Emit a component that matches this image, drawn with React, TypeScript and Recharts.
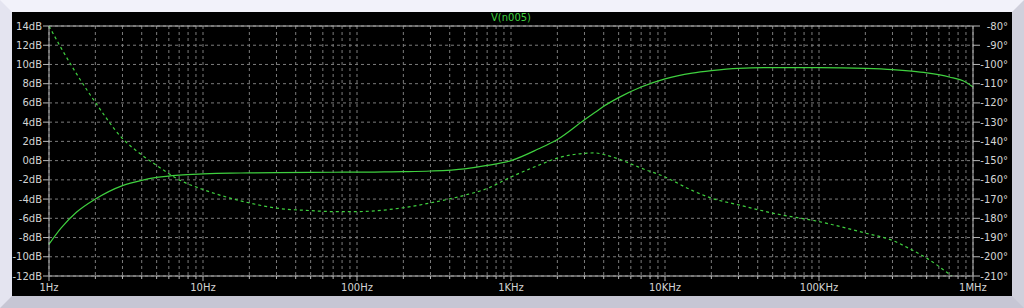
import React from 'react';
import { ComposedChart, Line, XAxis, YAxis, CartesianGrid, ReferenceLine } from 'recharts';

// frequency points (Hz)
const freqs = [
  1, 1.2, 1.5, 2, 3, 4, 5, 7, 10, 15, 20, 30, 50, 70, 100, 150, 200, 300, 500, 700,
  1e3, 1.5e3, 2e3, 3e3, 3.5e3, 4e3, 5e3, 7e3, 1e4, 1.5e4, 2e4, 3e4, 5e4, 1e5, 2e5, 3e5,
  4e5, 5e5, 7e5, 9e5, 1e6,
];

// V(n005) magnitude, dB
const magDb = [
  -8.7, -7.0, -5.4, -4.0, -2.6, -2.05, -1.75, -1.5, -1.38, -1.3, -1.28, -1.25, -1.22, -1.21,
  -1.2, -1.18, -1.15, -1.08, -0.85, -0.5, 0.0, 1.2, 2.2, 4.25, 5.0, 5.65, 6.55, 7.65, 8.5,
  9.1, 9.36, 9.6, 9.68, 9.68, 9.6, 9.47, 9.3, 9.12, 8.7, 8.15, 7.65,
];

// V(n005) phase, degrees
const phaseDeg = [
  -80, -91.5, -104.5, -119.7, -138.5, -147, -152.5, -160, -165, -169.5, -172, -174.7, -176,
  -176.5, -176.5, -175.7, -174.5, -172, -168, -164.5, -158.5, -152.5, -148.7, -146.2, -146,
  -146.8, -149.2, -153.9, -158.5, -165.5, -169.5, -173, -177.3, -181.7, -187.7, -191.5,
  -196.4, -200.7, -209, -216, -220,
];

const decadeTicks = [1, 10, 100, 1000, 10000, 100000, 1000000];
const decadeLabels = ['1Hz', '10Hz', '100Hz', '1KHz', '10KHz', '100KHz', '1MHz'];
const dbTicks = [-12, -10, -8, -6, -4, -2, 0, 2, 4, 6, 8, 10, 12, 14];
const degTicks = [-210, -200, -190, -180, -170, -160, -150, -140, -130, -120, -110, -100, -90, -80];

const data = freqs.map((f, i) => ({ f, mag: magDb[i], phase: phaseDeg[i] }));

// decades plus 2..9 minor steps, for ticks and grid
const freqTicks: number[] = [];
decadeTicks.forEach((d, i) => {
  freqTicks.push(d);
  if (i < decadeTicks.length - 1) for (let m = 2; m <= 9; m++) freqTicks.push(d * m);
});

const TRACE = '#3fd03f';
const AXIS = '#b8b8b8';
const LABEL = '#d4d4d4';
const GRID = '#7c7c7c';
const FONT = '"DejaVu Sans", sans-serif';

function FreqTick({ x, y, payload }: any) {
  const idx = decadeTicks.indexOf(payload.value);
  const major = idx >= 0;
  return (
    <g>
      <line x1={x} x2={x} y1={y} y2={y + (major ? 5 : 3)} stroke={AXIS} />
      {major && (
        <text x={x} y={y + 15} textAnchor="middle" fill={LABEL} fontSize={10} fontFamily={FONT}>
          {decadeLabels[idx]}
        </text>
      )}
    </g>
  );
}

function DbTick({ x, y, payload }: any) {
  return (
    <text x={x} y={y} dy={3.5} textAnchor="end" fill={LABEL} fontSize={10} fontFamily={FONT}>
      {payload.value}dB
    </text>
  );
}

function DegTick({ y, payload }: any) {
  return (
    <text x={996} y={y} dy={3.5} textAnchor="end" fill={LABEL} fontSize={10} fontFamily={FONT}>
      {payload.value}°
    </text>
  );
}

export default function App() {
  return (
    <div
      style={{
        position: 'absolute',
        left: 0,
        top: 0,
        width: 1000,
        height: 284,
        background: '#000',
        borderStyle: 'solid',
        borderWidth: 12,
        borderTopColor: '#f2f2fa',
        borderLeftColor: '#e4e4f0',
        borderRightColor: '#d0d0dc',
        borderBottomColor: '#c6c6d4',
        fontFamily: FONT,
      }}
    >
      <div
        style={{
          position: 'absolute',
          left: 37,
          top: 0,
          width: 924,
          textAlign: 'center',
          fontSize: 10,
          lineHeight: '12px',
          color: TRACE,
        }}
      >
        V(n005)
      </div>
      <ComposedChart width={1000} height={284} data={data} margin={{ top: 14, right: 0, left: 0, bottom: 0 }}>
        <CartesianGrid yAxisId="db" stroke={GRID} strokeDasharray="3 3" />
        <XAxis
          dataKey="f"
          type="number"
          scale="log"
          domain={[1, 1000000]}
          ticks={freqTicks}
          interval={0}
          height={20}
          tickSize={0}
          tickMargin={0}
          tickLine={false}
          axisLine={{ stroke: AXIS }}
          tick={<FreqTick />}
        />
        <YAxis
          yAxisId="db"
          domain={[-12, 14]}
          ticks={dbTicks}
          interval={0}
          width={37}
          tickSize={6}
          tickMargin={1}
          tickLine={{ stroke: AXIS }}
          axisLine={{ stroke: AXIS }}
          tick={<DbTick />}
        />
        <YAxis
          yAxisId="deg"
          orientation="right"
          domain={[-210, -80]}
          allowDataOverflow
          ticks={degTicks}
          interval={0}
          width={39}
          tickSize={7}
          tickLine={{ stroke: AXIS }}
          axisLine={{ stroke: AXIS }}
          tick={<DegTick />}
        />
        <ReferenceLine yAxisId="db" y={14} stroke={AXIS} />
        <Line
          yAxisId="db"
          dataKey="mag"
          type="monotone"
          stroke={TRACE}
          strokeWidth={1.2}
          dot={false}
          isAnimationActive={false}
        />
        <Line
          yAxisId="deg"
          dataKey="phase"
          type="monotone"
          stroke={TRACE}
          strokeWidth={1.2}
          strokeDasharray="3 3"
          dot={false}
          isAnimationActive={false}
        />
      </ComposedChart>
    </div>
  );
}
